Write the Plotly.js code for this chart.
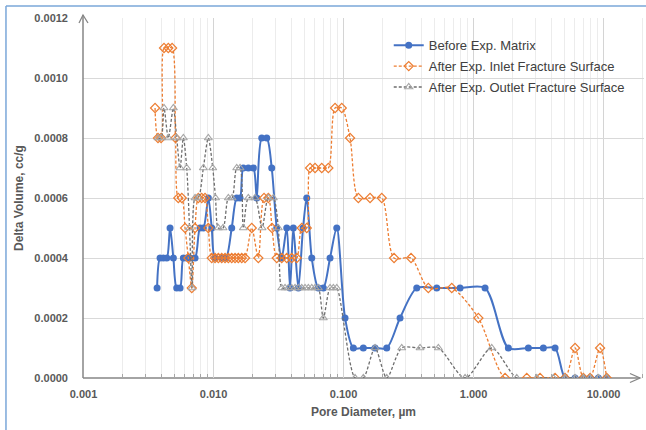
<!DOCTYPE html>
<html>
<head>
<meta charset="utf-8">
<script src="https://cdn.plot.ly/plotly-3.0.1.min.js"></script>
<style>html,body{margin:0;padding:0;background:#fff;}#chart{width:646px;height:430px;}</style>
</head>
<body>
<div id="chart"></div>
<script>
// Pore diameter (µm) and delta volume (cc/g)
const seriesNames = ["Before Exp. Matrix", "After Exp. Inlet Fracture Surface", "After Exp. Outlet Fracture Surface"];

const beforeDiameter = [0.00368,0.00388,0.00411,0.00437,0.00463,0.00491,0.00521,0.00553,0.00586,0.00622,0.00660,0.00721,0.00787,0.00835,0.00912,0.00969,0.01027,0.01156,0.01248,0.01380,0.01508,0.01599,0.01695,0.01852,0.02024,0.02149,0.02349,0.02566,0.02803,0.03063,0.03345,0.03657,0.03877,0.04110,0.04490,0.04881,0.05212,0.05695,0.06400,0.06992,0.07873,0.08866,0.1027,0.1190,0.1420,0.1747,0.2149,0.2720,0.3657,0.5212,0.7873,1.226,1.852,2.640,3.443,4.236,5.057,6.037,6.992,7.873,9.120,10.58];
const beforeVolume = [0.0003,0.0004,0.0004,0.0004,0.0005,0.0004,0.0003,0.0003,0.0004,0.0004,0.0004,0.0004,0.0005,0.0005,0.0006,0.0005,0.0004,0.0004,0.0004,0.0005,0.0006,0.0006,0.0007,0.0007,0.0007,0.0006,0.0008,0.0008,0.0007,0.0005,0.0004,0.0005,0.0003,0.0005,0.0003,0.0005,0.0006,0.0004,0.0003,0.0003,0.0004,0.0005,0.0002,0.0001,0.0001,0.0001,0.0001,0.0002,0.0003,0.0003,0.0003,0.0003,0.0001,0.0001,0.0001,0.0001,0,0,0,0,0,0];

const inletDiameter = [0.00355,0.00374,0.00395,0.00416,0.00449,0.00480,0.00510,0.00536,0.00570,0.00604,0.00640,0.00680,0.00721,0.00764,0.00811,0.00860,0.00912,0.00969,0.01027,0.01089,0.01156,0.01226,0.01300,0.01380,0.01464,0.01551,0.01648,0.01747,0.01967,0.02211,0.02446,0.02640,0.02818,0.03063,0.03345,0.03657,0.03994,0.04365,0.04770,0.05212,0.05526,0.06037,0.06797,0.07640,0.08603,0.09687,0.1122,0.1300,0.1599,0.1967,0.2446,0.3305,0.4490,0.6797,1.089,1.747,2.566,3.246,4.236,5.057,6.037,6.992,7.873,9.399,10.58];
const inletVolume = [0.0009,0.0008,0.0008,0.0011,0.0011,0.0011,0.0008,0.0006,0.0006,0.0005,0.0004,0.0003,0.0005,0.0006,0.0006,0.0006,0.0005,0.0004,0.0004,0.0004,0.0004,0.0004,0.0004,0.0004,0.0004,0.0004,0.0004,0.0004,0.0005,0.0004,0.0006,0.0006,0.0005,0.0004,0.0004,0.0004,0.0004,0.0004,0.0005,0.0005,0.0007,0.0007,0.0007,0.0007,0.0009,0.0009,0.0008,0.0006,0.0006,0.0006,0.0004,0.0004,0.0003,0.0003,0.0002,0,0,0,0,0,0.0001,0,0,0.0001,0];

const outletDiameter = [0.00374,0.00395,0.00416,0.00449,0.00491,0.00521,0.00553,0.00586,0.00622,0.00654,0.00683,0.00721,0.00764,0.00835,0.00912,0.00986,0.01036,0.01089,0.01183,0.01300,0.01388,0.01508,0.01599,0.01695,0.01852,0.02086,0.02361,0.02640,0.02884,0.03151,0.03345,0.03548,0.03762,0.03994,0.04236,0.04490,0.04770,0.05057,0.05362,0.05695,0.06037,0.06400,0.06992,0.07873,0.08348,0.08866,0.1226,0.1420,0.1747,0.2149,0.2803,0.3877,0.5362,0.8603,1.380,2.149,3.063,4.110,5.057,6.037,6.992,7.873,9.120,10.58];
const outletVolume = [0.0008,0.0008,0.0009,0.0008,0.0009,0.0008,0.0007,0.0008,0.0007,0.0005,0.0003,0.0006,0.0006,0.0007,0.0008,0.0007,0.0006,0.0005,0.0005,0.0006,0.0006,0.0007,0.0007,0.0005,0.0006,0.0006,0.0005,0.0006,0.0006,0.0005,0.0003,0.0003,0.0003,0.0003,0.0003,0.0003,0.0003,0.0003,0.0003,0.0003,0.0003,0.0003,0.0002,0.0003,0.0003,0.0003,0,0,0.0001,0,0.0001,0.0001,0.0001,0,0.0001,0,0,0,0,0,0,0,0,0];

const yTicks = [0, 0.0002, 0.0004, 0.0006, 0.0008, 0.0010, 0.0012];

const FONT = 'Liberation Sans, Arial, sans-serif';

const traces = [
  {x: beforeDiameter, y: beforeVolume, name: seriesNames[0], type: 'scatter', mode: 'lines+markers',
   legendgroup: 'a',
   line: {color: '#4472c4', width: 2, shape: 'spline', smoothing: 0.8},
   marker: {symbol: 'circle', size: 7, color: '#4472c4'}},
  {x: inletDiameter, y: inletVolume, name: seriesNames[1], type: 'scatter', mode: 'lines+markers',
   legendgroup: 'b',
   line: {color: '#ed7d31', width: 1.3, dash: '3px,2px', shape: 'spline', smoothing: 0.8},
   marker: {symbol: 'diamond-open', size: 7, color: '#ed7d31', line: {width: 1.2, color: '#ed7d31'}}},
  {x: outletDiameter, y: outletVolume, name: seriesNames[2], type: 'scatter', mode: 'lines+markers',
   legendgroup: 'c',
   line: {color: '#6e6e6e', width: 1.3, dash: '3px,2px', shape: 'spline', smoothing: 0.8},
   marker: {symbol: 'triangle-up-open', size: 7, color: '#a6a6a6', line: {width: 1.1, color: '#a6a6a6'}}}
];

const axisColor = '#868686';
const layout = {
  width: 646, height: 430,
  margin: {l: 83, r: 2, t: 18, b: 52},
  paper_bgcolor: '#ffffff', plot_bgcolor: '#ffffff',
  font: {family: FONT, color: '#595959'},
  showlegend: true,
  legend: {x: 0.545, xanchor: 'left', y: 0.966, yanchor: 'top', bgcolor: 'rgba(0,0,0,0)',
           font: {size: 13, color: '#404040', family: FONT}, traceorder: 'grouped', tracegroupgap: 1, itemwidth: 30},
  xaxis: {
    type: 'log', range: [-3.004, 1.311], tickmode: 'linear', tick0: 0, dtick: 1, tickformat: '.3f',
    showgrid: true, gridcolor: '#d4d4d4', gridwidth: 1, zeroline: false, showline: false,
    ticks: '', ticklabelstandoff: 8,
    tickfont: {size: 11, color: '#595959', family: FONT, weight: 'bold'},
    minor: {dtick: 'D1', showgrid: true, gridcolor: '#ececec', gridwidth: 1, ticks: 'inside', ticklen: 4, tickcolor: '#a6a6a6'},
    title: {text: 'Pore Diameter, µm', font: {size: 12, color: '#595959', family: FONT, weight: 'bold'}, standoff: 8}
  },
  yaxis: {
    range: [0, 0.0012], tickmode: 'array', tickvals: yTicks, tickformat: '.4f',
    showgrid: true, gridcolor: '#d9d9d9', gridwidth: 1, zeroline: false, showline: false,
    ticks: '', ticklabelstandoff: 14,
    tickfont: {size: 11, color: '#595959', family: FONT, weight: 'bold'},
    title: {text: 'Delta Volume, cc/g', font: {size: 12, color: '#595959', family: FONT, weight: 'bold'}, standoff: 8}
  },
  shapes: [
    // y axis line with arrow
    {type: 'line', xref: 'paper', yref: 'paper', x0: 0, x1: 0, y0: 0, y1: 1.0083, line: {color: axisColor, width: 1.5}, layer: 'above'},
    {type: 'path', xref: 'paper', yref: 'paper', path: 'M -0.0071 0.9861 L 0 1.0083 L 0.0089 0.9861', line: {color: axisColor, width: 1.3}, layer: 'above'},
    // x axis line with arrow
    {type: 'line', xref: 'paper', yref: 'paper', x0: 0, x1: 0.9929, y0: 0, y1: 0, line: {color: axisColor, width: 1.5}, layer: 'between'},
    {type: 'path', xref: 'paper', yref: 'paper', path: 'M 0.9750 0.0125 L 0.9929 0 L 0.9750 -0.0125', line: {color: axisColor, width: 1.3}, layer: 'above'},
    // chart area border (left and top)
    {type: 'line', xref: 'paper', yref: 'paper', x0: -0.1373, x1: -0.1373, y0: -0.2, y1: 1.0333, line: {color: '#7aa7d9', width: 1.5}, layer: 'above'},
    {type: 'line', xref: 'paper', yref: 'paper', x0: -0.1373, x1: 1.05, y0: 1.0333, y1: 1.0333, line: {color: '#7aa7d9', width: 1.5}, layer: 'above'}
  ]
};

Plotly.newPlot('chart', traces, layout, {displayModeBar: false, staticPlot: true});
</script>
</body>
</html>
